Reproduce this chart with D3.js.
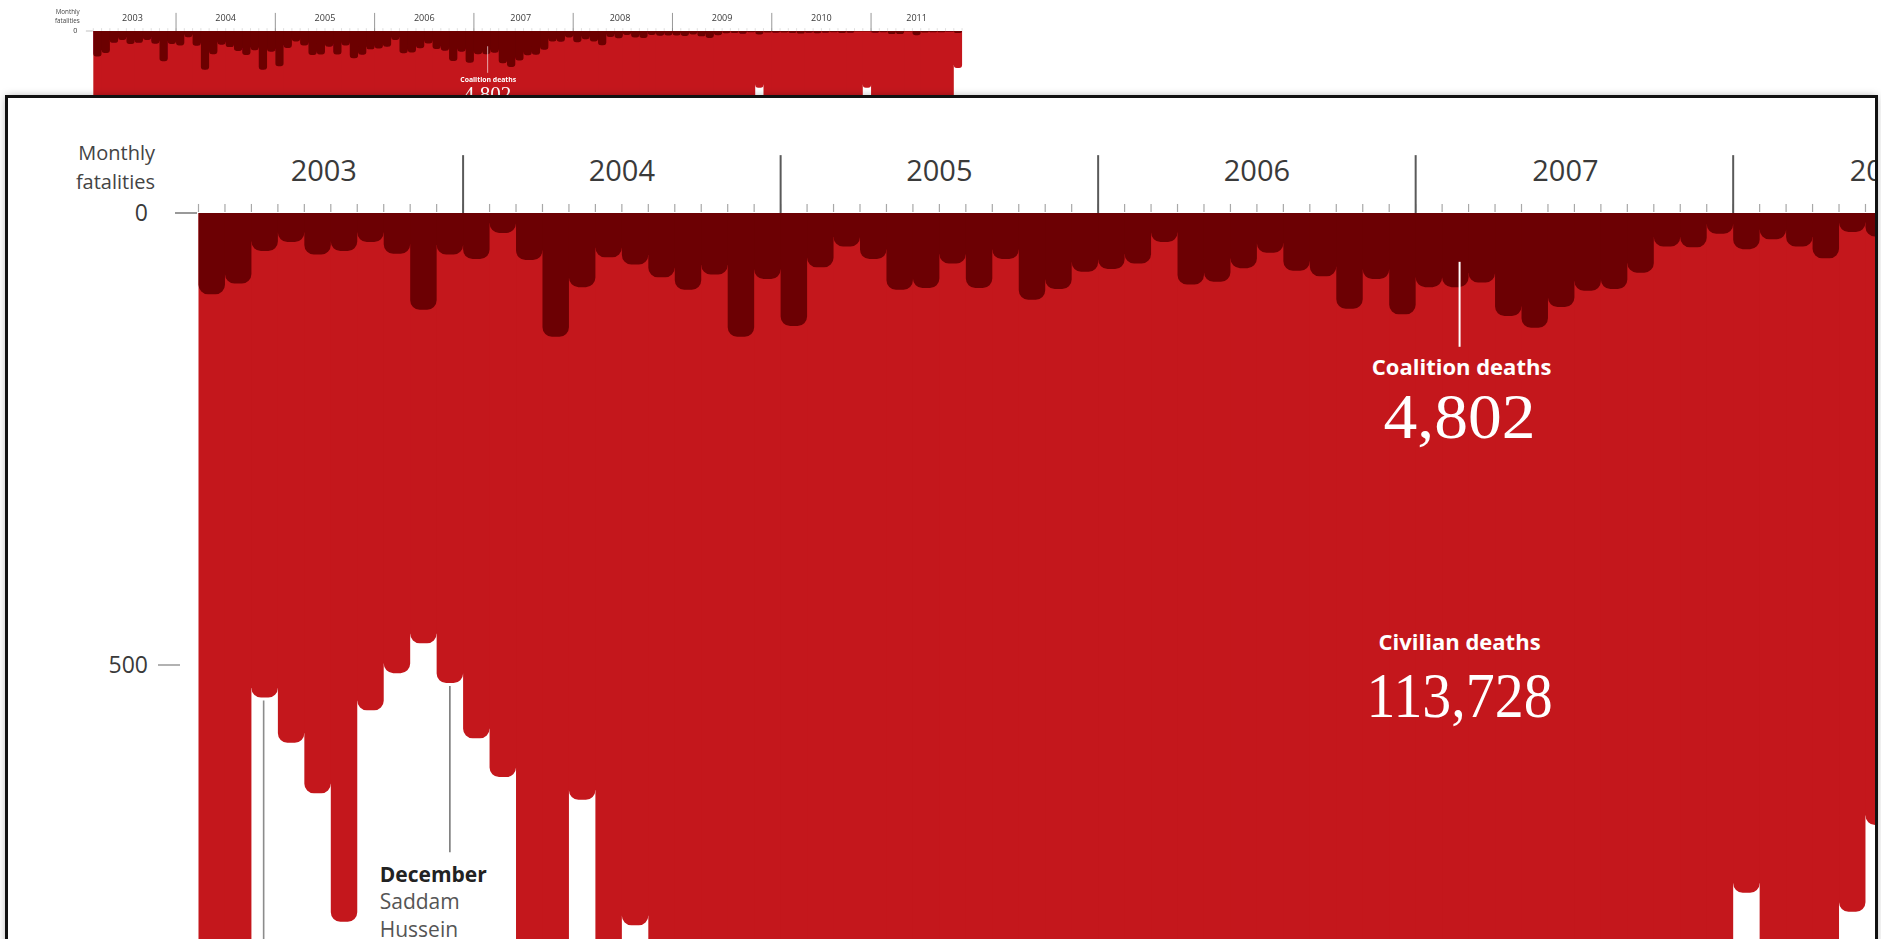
<!DOCTYPE html>
<html>
<head>
<meta charset="utf-8">
<script src="https://cdn.jsdelivr.net/npm/d3@7"></script>
<style>
  html, body { margin: 0; padding: 0; background: #ffffff; overflow: hidden; }
  svg { display: block; }
</style>
</head>
<body>
<script>
// ---------------- DATA ----------------
const years = [2003, 2004, 2005, 2006, 2007, 2008, 2009, 2010, 2011];
const monthsInYear = [10, 12, 12, 12, 12, 12, 12, 12, 11]; // Mar 2003 .. Nov 2011
const startMonth = 2; // March (0-based)

// Coalition deaths per month
const coalition = [
  90, 78, 42, 32, 46, 42, 32, 45, 107, 46,                 // 2003
  51, 22, 52, 137, 82, 49, 57, 71, 85, 68, 137, 73,         // 2004
  125, 60, 37, 51, 85, 83, 56, 83, 51, 96, 84, 65,          // 2005
  62, 56, 32, 79, 76, 61, 44, 64, 70, 106, 73, 112,         // 2006
  82, 82, 77, 114, 127, 104, 86, 84, 66, 37, 38, 23,        // 2007
  40, 29, 37, 50, 21, 26, 14, 23, 25, 14, 17, 16,           // 2008
  16, 18, 12, 19, 25, 15, 8, 7, 10, 4, 12, 5,               // 2009
  6, 5, 7, 9, 6, 8, 6, 4, 7, 6, 2, 2,                       // 2010
  6, 4, 11, 11, 2, 15, 5, 4, 4, 3, 7                        // 2011
];

// Civilian deaths per month
const civilian = [
  3977, 3437, 536, 586, 642, 784, 550, 509, 476, 520,                 // 2003
  581, 624, 1004, 1303, 649, 910, 788, 868, 1053, 1000, 1612, 1118,   // 2004
  1218, 1254, 902, 1106, 1346, 1268, 1520, 2229, 1371, 1265, 1408, 1125, // 2005
  1547, 1579, 1957, 1805, 2279, 2594, 3298, 2865, 2567, 3041, 3095, 2900, // 2006
  3035, 2680, 2728, 2573, 2854, 2219, 2702, 2483, 1391, 1326, 1124, 997,  // 2007
  752, 1093, 1669, 1317, 773, 677, 640, 704, 612, 594, 530, 586,      // 2008
  372, 409, 438, 590, 428, 564, 431, 653, 352, 441, 201, 475,         // 2009
  267, 305, 336, 385, 387, 385, 325, 516, 254, 315, 305, 201,         // 2010
  389, 254, 311, 289, 381, 386, 308, 401, 397, 366, 131               // 2011
];

const yTicks = [0, 500];
const totals = { coalition: "4,802", civilian: "113,728" };
const axisTitle = ["Monthly", "fatalities"];
const noteDec = ["December", "Saddam", "Hussein"];

// ---------------- LAYOUT ----------------
const W = 1881, H = 939;
const RED = "#c4171c", DARK = "#6c0003";
const yearLabelNudge = { 2003: -7, 2007: -9, 2008: -9 };

const months = [];
years.forEach((yr, yi) => {
  const first = yi === 0 ? startMonth : 0;
  for (let m = 0; m < monthsInYear[yi]; m++) months.push({ year: yr, month: first + m });
});
const n = months.length;

const svg = d3.select("body").append("svg").attr("width", W).attr("height", H);
const defs = svg.append("defs");

const blur = defs.append("filter").attr("id", "thumbBlur")
  .attr("x", "-5%").attr("y", "-5%").attr("width", "110%").attr("height", "110%");
blur.append("feGaussianBlur").attr("stdDeviation", 2.4);

const shadow = defs.append("filter").attr("id", "boxShadow")
  .attr("x", "-2%").attr("y", "-3%").attr("width", "104%").attr("height", "106%");
shadow.append("feDropShadow").attr("dx", 0).attr("dy", 0).attr("stdDeviation", 4)
  .attr("flood-color", "#000").attr("flood-opacity", 0.35);

defs.append("clipPath").attr("id", "boxClip")
  .append("rect").attr("x", 8).attr("y", 98).attr("width", 1868).attr("height", 900);

// Chart drawn in "inset" pixel coordinates; thumbnail is the same chart scaled.
const x = d3.scaleBand().domain(d3.range(n)).range([198.5, 198.5 + 26.46 * n]).padding(0);
const y = d3.scaleLinear().domain([0, 500]).range([213, 665]);
const bw = x.bandwidth();

function dripPath(x0, w, y0, y1, r) {
  const rr = Math.max(0, Math.min(r, y1 - y0, w / 2));
  return `M${x0},${y0}H${x0 + w}V${y1 - rr}` +
         `A${rr},${rr} 0 0 1 ${x0 + w - rr},${y1}` +
         `H${x0 + rr}A${rr},${rr} 0 0 1 ${x0},${y1 - rr}Z`;
}

function drawChart(g, extra) {
  const font = "'Open Sans', 'DejaVu Sans', sans-serif";

  // bars with a small overlap strip toward the next column (avoids seams)
  function barPath(series) {
    return (v, i) => {
      const nb = i < n - 1 ? Math.min(series[i + 1], v) : 0;
      return dripPath(x(i), bw, y(0), y(v), bw * 0.36) +
        (nb > 0 ? `M${x(i) + bw - 0.5},${y(0)}H${x(i) + bw + extra}V${Math.max(y(0), y(nb) - bw * 0.36)}H${x(i) + bw - 0.5}Z` : "");
    };
  }

  // civilian bars (from zero)
  g.append("g").selectAll("path").data(civilian).join("path")
    .attr("d", barPath(civilian)).attr("fill", RED);

  // coalition bars (overlaid, from zero)
  g.append("g").selectAll("path").data(coalition).join("path")
    .attr("d", barPath(coalition)).attr("fill", DARK);

  // month ticks
  g.append("g").selectAll("line").data(d3.range(n + 1)).join("line")
    .attr("x1", i => x(0) + i * bw).attr("x2", i => x(0) + i * bw)
    .attr("y1", y(-10)).attr("y2", y(0) - 1)
    .attr("stroke", "#a8a8a8").attr("stroke-width", 1.2);

  // year groups
  const yearInfo = years.map(yr => {
    const idx = months.map((m, i) => m.year === yr ? i : -1).filter(i => i >= 0);
    return { year: yr, first: idx[0], last: idx[idx.length - 1] };
  });
  g.append("g").selectAll("line").data(yearInfo.slice(1)).join("line")
    .attr("x1", d => x(d.first)).attr("x2", d => x(d.first))
    .attr("y1", y(-64)).attr("y2", y(0))
    .attr("stroke", "#5a5a5a").attr("stroke-width", 2);
  g.append("g").selectAll("text").data(yearInfo).join("text")
    .attr("x", d => (x(d.first) + x(d.last) + bw) / 2 + (yearLabelNudge[d.year] || 0))
    .attr("y", y(-35.5))
    .attr("text-anchor", "middle")
    .attr("font-family", font).attr("font-size", 29).attr("fill", "#3a3a3a")
    .text(d => d.year);

  // y axis title
  g.append("g").selectAll("text").data(axisTitle).join("text")
    .attr("x", 155).attr("y", (d, i) => 160 + i * 29)
    .attr("text-anchor", "end")
    .attr("font-family", font).attr("font-size", 20).attr("fill", "#444")
    .text(d => d);

  // y ticks
  g.append("g").selectAll("text").data(yTicks).join("text")
    .attr("x", 148).attr("y", v => y(v) + 8)
    .attr("text-anchor", "end")
    .attr("font-family", font).attr("font-size", 23).attr("fill", "#3a3a3a")
    .text(v => v);
  g.append("g").selectAll("line").data(yTicks).join("line")
    .attr("x1", v => v === 0 ? 175 : 158).attr("x2", v => v === 0 ? 197 : 180)
    .attr("y1", v => y(v)).attr("y2", v => y(v))
    .attr("stroke", v => v === 0 ? "#777" : "#999").attr("stroke-width", 1.5);

  // annotation: May 2003 pointer (label below view)
  g.append("line")
    .attr("x1", x(2) + bw / 2 - 1).attr("x2", x(2) + bw / 2 - 1)
    .attr("y1", y(civilian[2]) + 3).attr("y2", y(1000))
    .attr("stroke", "#8c8c8c").attr("stroke-width", 1.6);

  // annotation: December 2003
  g.append("line")
    .attr("x1", x(9) + bw / 2).attr("x2", x(9) + bw / 2)
    .attr("y1", y(civilian[9]) + 3).attr("y2", y(707))
    .attr("stroke", "#7a7a7a").attr("stroke-width", 1.6);
  g.append("g").selectAll("text").data(noteDec).join("text")
    .attr("x", x(7) - 4).attr("y", (d, i) => y(740) + i * 27.5)
    .attr("font-family", font).attr("font-size", 21)
    .attr("font-weight", (d, i) => i === 0 ? 700 : 400)
    .attr("fill", (d, i) => i === 0 ? "#222" : "#555")
    .text(d => d);

  // annotation: coalition / civilian totals
  const ax = x(47) + bw * 0.66;
  g.append("line").attr("x1", ax).attr("x2", ax)
    .attr("y1", y(54)).attr("y2", y(148))
    .attr("stroke", "#fff").attr("stroke-width", 2);
  const lab = g.append("g").attr("fill", "#fff").attr("text-anchor", "middle");
  lab.append("text").attr("x", ax + 2).attr("y", y(179))
    .attr("font-family", font).attr("font-weight", 700).attr("font-size", 22)
    .text("Coalition deaths");
  lab.append("text").attr("x", ax).attr("y", y(249))
    .attr("font-family", "'Liberation Serif', 'DejaVu Serif', serif").attr("font-size", 64)
    .attr("textLength", 152).attr("lengthAdjust", "spacingAndGlyphs")
    .text(totals.coalition);
  lab.append("text").attr("x", ax).attr("y", y(483))
    .attr("font-family", font).attr("font-weight", 700).attr("font-size", 22)
    .text("Civilian deaths");
  lab.append("text").attr("x", ax).attr("y", y(557))
    .attr("font-family", "'Liberation Serif', 'DejaVu Serif', serif").attr("font-size", 64)
    .attr("textLength", 186).attr("lengthAdjust", "spacingAndGlyphs")
    .text(totals.civilian);
}

// ---- thumbnail (full chart, small) ----
const k = 0.3127;
const thumb = svg.append("g")
  .attr("transform", `translate(${93.3 - 198.5 * k},${31 - 213 * k}) scale(${k})`)
  .attr("filter", "url(#thumbBlur)");
drawChart(thumb, 3);

// ---- magnified inset box ----
svg.append("rect")
  .attr("x", 6.5).attr("y", 96.5).attr("width", 1870).attr("height", 900)
  .attr("fill", "#fff").attr("filter", "url(#boxShadow)");
const inset = svg.append("g").attr("clip-path", "url(#boxClip)");
drawChart(inset, 1);
svg.append("rect")
  .attr("x", 6.5).attr("y", 96.5).attr("width", 1870).attr("height", 900)
  .attr("fill", "none").attr("stroke", "#111").attr("stroke-width", 3);
</script>
</body>
</html>
